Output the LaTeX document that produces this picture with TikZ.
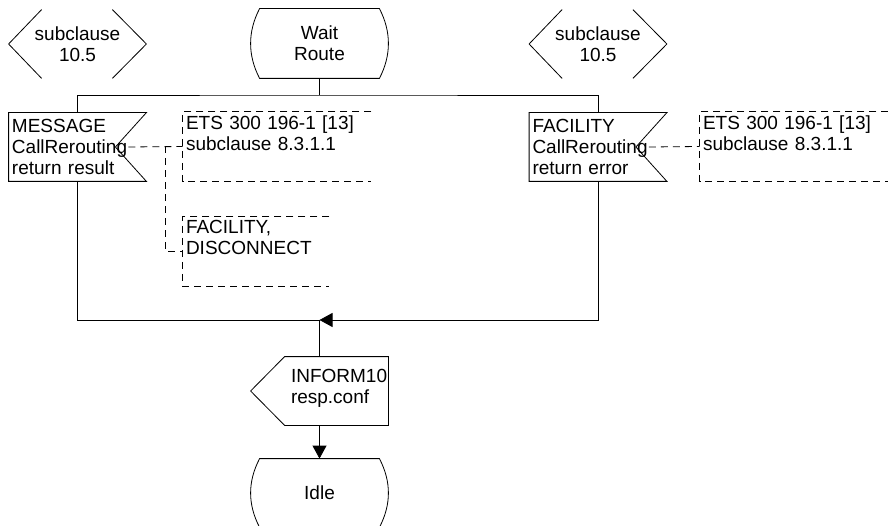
\documentclass[tikz,border=0pt]{standalone}
\usepackage{fontspec}
\setmainfont{Liberation Sans}
\usetikzlibrary{arrows.meta}
\begin{document}
\begin{tikzpicture}[x=1pt,y=-1pt,line width=0.8pt,
  lbl/.style={font=\fontsize{19}{21}\selectfont,inner sep=0pt},
  shp/.style={minimum width=137pt,minimum height=68pt,inner sep=0pt,draw=none},
  cmtline/.style={dash pattern=on 7pt off 5pt},
  arr/.style={-{Triangle[length=13pt,width=14pt]}}]
\useasboundingbox (0,0) rectangle (888,526);
% connectors (hexagons)
\node[shp,lbl,align=center] (c1) at (77.5,44) {subclause\\10.5};
\node[shp,lbl,align=center] (c2) at (598,44) {subclause\\10.5};
\foreach \c in {c1,c2}{
  \draw ([xshift=33pt]\c.north west) -- (\c.west) -- ([xshift=33pt]\c.south west);
  \draw ([xshift=-34pt]\c.north east) -- (\c.east) -- ([xshift=-34pt]\c.south east);
}
% states
\node[shp,lbl,align=center,minimum height=69pt] (ws) at (319.5,43.5) {Wait\\Route};
\node[shp,lbl,align=center] (idle) at (319.5,493) {Idle};
\foreach \s in {ws,idle}{
  \draw ([xshift=9pt]\s.north west) -- ([xshift=-9pt]\s.north east)
    .. controls ([xshift=3pt,yshift=-23pt]\s.north east) and ([xshift=3pt,yshift=23pt]\s.south east) .. ([xshift=-9pt]\s.south east)
    -- ([xshift=9pt]\s.south west)
    .. controls ([xshift=-3pt,yshift=23pt]\s.south west) and ([xshift=-3pt,yshift=-23pt]\s.north west) .. cycle;
}
% inputs
\node[shp,lbl,align=left,text width=131pt] (i1) at (77.5,147) {MESSAGE\\CallRerouting\\return result};
\node[shp,lbl,align=left,text width=131pt] (i2) at (598,147) {FACILITY\\CallRerouting\\return error};
\foreach \i in {i1,i2}{
  \draw (\i.north west) -- (\i.north east) -- ([xshift=-31pt]\i.east) -- (\i.south east) -- (\i.south west) -- cycle;
}
% output
\node[shp] (out) at (319.5,391) {};
\node[lbl,align=left,anchor=west] (outt) at ([xshift=40pt,yshift=2.5pt]out.west) {INFORM10\\resp.conf};
\draw ([xshift=34pt]out.north west) -- (out.north east) -- (out.south east) -- ([xshift=34pt]out.south west) -- (out.west) -- cycle;
% comments
\node[lbl,align=left,text width=182pt,minimum width=188pt,minimum height=69pt] (cm1) at (277,146.5) {ETS 300 196-1 [13]\\subclause 8.3.1.1\\\strut};
\node[lbl,align=left,text width=140pt,minimum width=146pt,minimum height=69pt] (cm2) at (256,251.5) {FACILITY,\\DISCONNECT\\\strut};
\node[lbl,align=left,text width=182pt,minimum width=188pt,minimum height=69pt] (cm3) at (794,146.5) {ETS 300 196-1 [13]\\subclause 8.3.1.1\\\strut};
\foreach \m in {cm1,cm2,cm3}{
  \draw[cmtline] (\m.north east) -- (\m.north west) -- (\m.south west) -- (\m.south east);
}
\coordinate (j1) at (165,146.5);
\draw[cmtline] ([xshift=-18pt]i1.east) -- (cm1.west);
\draw[cmtline] (j1) |- (cm2.west);
\draw[cmtline] ([xshift=-18pt]i2.east) -- (cm3.west);
% flow lines
\coordinate (top) at (319.5,95);
\coordinate (bot) at (319.5,320);
\draw (ws.south) -- (top);
\draw (i1.north) |- (top) -| (i2.north);
\draw (i1.south) |- (bot);
\draw[arr] (i2.south) |- (bot);
\draw (out.north) -- (bot);
\draw[arr] (out.south) -- (idle.north);
\end{tikzpicture}
\end{document}
